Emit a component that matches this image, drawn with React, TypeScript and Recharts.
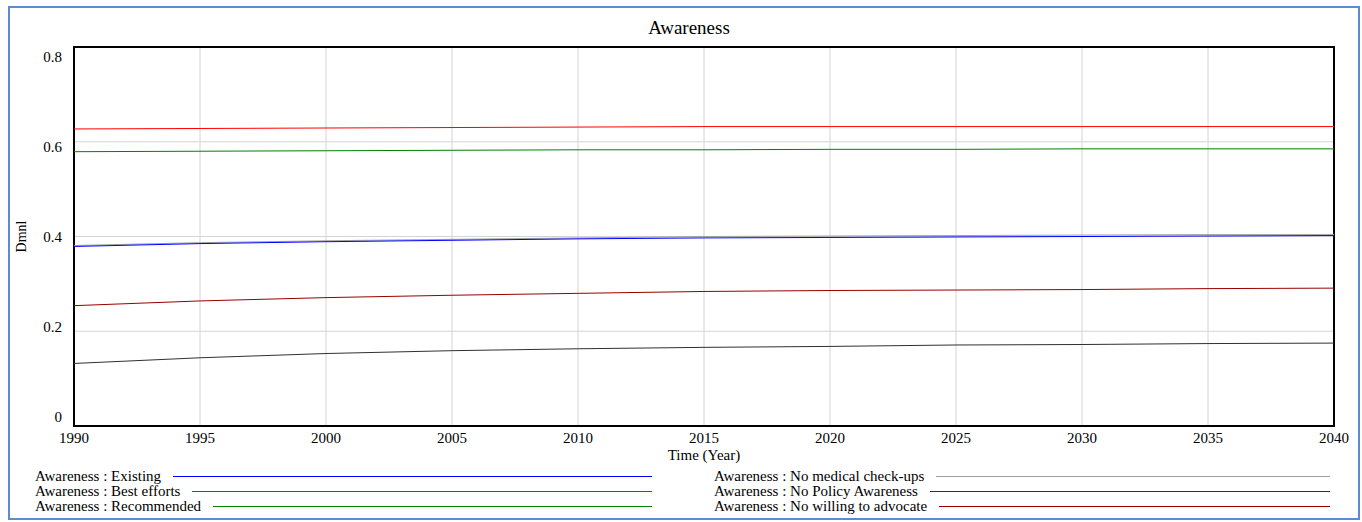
import {
  LineChart,
  Line,
  XAxis,
  YAxis,
  CartesianGrid,
  ReferenceArea,
  Legend,
} from 'recharts'

const years = [1990, 1995, 2000, 2005, 2010, 2015, 2020, 2025, 2030, 2035, 2040]
const existing = [0.379, 0.385, 0.389, 0.392, 0.395, 0.397, 0.398, 0.399, 0.4, 0.401, 0.402]
const bestEfforts = [0.627, 0.628, 0.629, 0.63, 0.631, 0.632, 0.632, 0.632, 0.632, 0.632, 0.632]
const recommended = [0.579, 0.58, 0.581, 0.582, 0.583, 0.583, 0.584, 0.584, 0.585, 0.585, 0.585]
const noMedical = [0.381, 0.387, 0.391, 0.394, 0.397, 0.4, 0.401, 0.402, 0.403, 0.404, 0.404]
const noPolicy = [0.132, 0.144, 0.153, 0.159, 0.163, 0.166, 0.168, 0.171, 0.172, 0.174, 0.175]
const noWilling = [0.254, 0.264, 0.271, 0.276, 0.28, 0.284, 0.286, 0.287, 0.288, 0.29, 0.291]

const xTicks = [1990, 1995, 2000, 2005, 2010, 2015, 2020, 2025, 2030, 2035, 2040]
const yTicks = [0, 0.2, 0.4, 0.6, 0.8]

// legend order
const series = [
  { key: 'existing', name: 'Awareness : Existing', color: '#0000ff', values: existing },
  { key: 'bestEfforts', name: 'Awareness : Best efforts', color: '#ff0000', values: bestEfforts },
  { key: 'recommended', name: 'Awareness : Recommended', color: '#008000', values: recommended },
  { key: 'noMedical', name: 'Awareness : No medical check-ups', color: '#a0a0a0', values: noMedical },
  { key: 'noPolicy', name: 'Awareness : No Policy Awareness', color: '#303030', values: noPolicy },
  { key: 'noWilling', name: 'Awareness : No willing to advocate', color: '#990000', values: noWilling },
]

// draw order: gray under the blue one so blue stays visible
const drawOrder = ['noMedical', 'existing', 'bestEfforts', 'recommended', 'noPolicy', 'noWilling']

const data = years.map((year, i) => {
  const row: any = { year }
  series.forEach((s) => {
    row[s.key] = s.values[i]
  })
  return row
})

const FONT = '"Liberation Serif", "Times New Roman", serif'

// Vensim spreads the y labels a little tighter than the grid lines
function YTick({ x, y, payload }: any) {
  const shift = (payload.value - 0.4) * 23.75
  return (
    <text x={x} y={y + shift} dy="0.355em" textAnchor="end" fill="#000" fontSize={15}>
      {payload.value}
    </text>
  )
}

function LegendBox() {
  const col = (list: typeof series, width: number) => (
    <div style={{ width }}>
      {list.map((s) => (
        <div
          key={s.key}
          style={{ display: 'flex', alignItems: 'center', height: 15, lineHeight: '15px' }}
        >
          <span style={{ whiteSpace: 'nowrap', fontSize: 15, color: '#000' }}>{s.name}</span>
          <span
            style={{ flex: 1, marginLeft: 12, height: 0, borderTop: `1.5px solid ${s.color}` }}
          />
        </div>
      ))}
    </div>
  )
  return (
    <div style={{ display: 'flex', paddingLeft: 25 }}>
      {col(series.slice(0, 3), 617)}
      <div style={{ width: 62 }} />
      {col(series.slice(3, 6), 616)}
    </div>
  )
}

export default function App() {
  return (
    <div
      style={{
        position: 'absolute',
        left: 8,
        top: 6,
        width: 1352,
        height: 514,
        boxSizing: 'border-box',
        border: '2px solid #5b8bd0',
        background: '#fff',
        fontFamily: FONT,
      }}
    >
      <div
        style={{
          position: 'absolute',
          left: 679,
          top: 9,
          transform: 'translateX(-50%)',
          fontSize: 19,
          lineHeight: '22px',
          color: '#000',
          whiteSpace: 'nowrap',
          zIndex: 2,
        }}
      >
        Awareness
      </div>
      <LineChart
        width={1348}
        height={510}
        data={data}
        margin={{ top: 39, right: 24, left: 0, bottom: 52 }}
      >
        <CartesianGrid stroke="#d4d4d4" strokeWidth={1} />
        <XAxis
          dataKey="year"
          type="number"
          domain={[1990, 2040]}
          ticks={xTicks}
          interval={0}
          height={40}
          tickLine={false}
          axisLine={false}
          tickSize={4}
          tickMargin={2}
          tick={{ fill: '#000', fontSize: 15 }}
          label={{ value: 'Time (Year)', position: 'insideBottom', offset: 6, fill: '#000', fontSize: 15 }}
        />
        <YAxis
          type="number"
          domain={[0, 0.8]}
          ticks={yTicks}
          width={64}
          tickLine={false}
          axisLine={false}
          tickSize={10}
          tickMargin={2}
          tick={<YTick />}
          label={{
            value: 'Dmnl',
            angle: -90,
            position: 'insideLeft',
            offset: 11,
            fill: '#000',
            fontSize: 14,
            style: { textAnchor: 'middle' },
          }}
        />
        <ReferenceArea
          x1={1990}
          x2={2040}
          y1={0}
          y2={0.8}
          fill="none"
          fillOpacity={0}
          stroke="#000"
          strokeWidth={2}
        />
        {drawOrder.map((k) => {
          const s = series.find((item) => item.key === k)!
          return (
            <Line
              key={s.key}
              dataKey={s.key}
              name={s.name}
              type="linear"
              stroke={s.color}
              strokeWidth={1}
              dot={false}
              activeDot={false}
              isAnimationActive={false}
            />
          )
        })}
        <Legend
          layout="vertical"
          verticalAlign="middle"
          align="center"
          content={<LegendBox />}
          wrapperStyle={{ top: 461, left: 0, width: 1348 }}
        />
      </LineChart>
    </div>
  )
}
